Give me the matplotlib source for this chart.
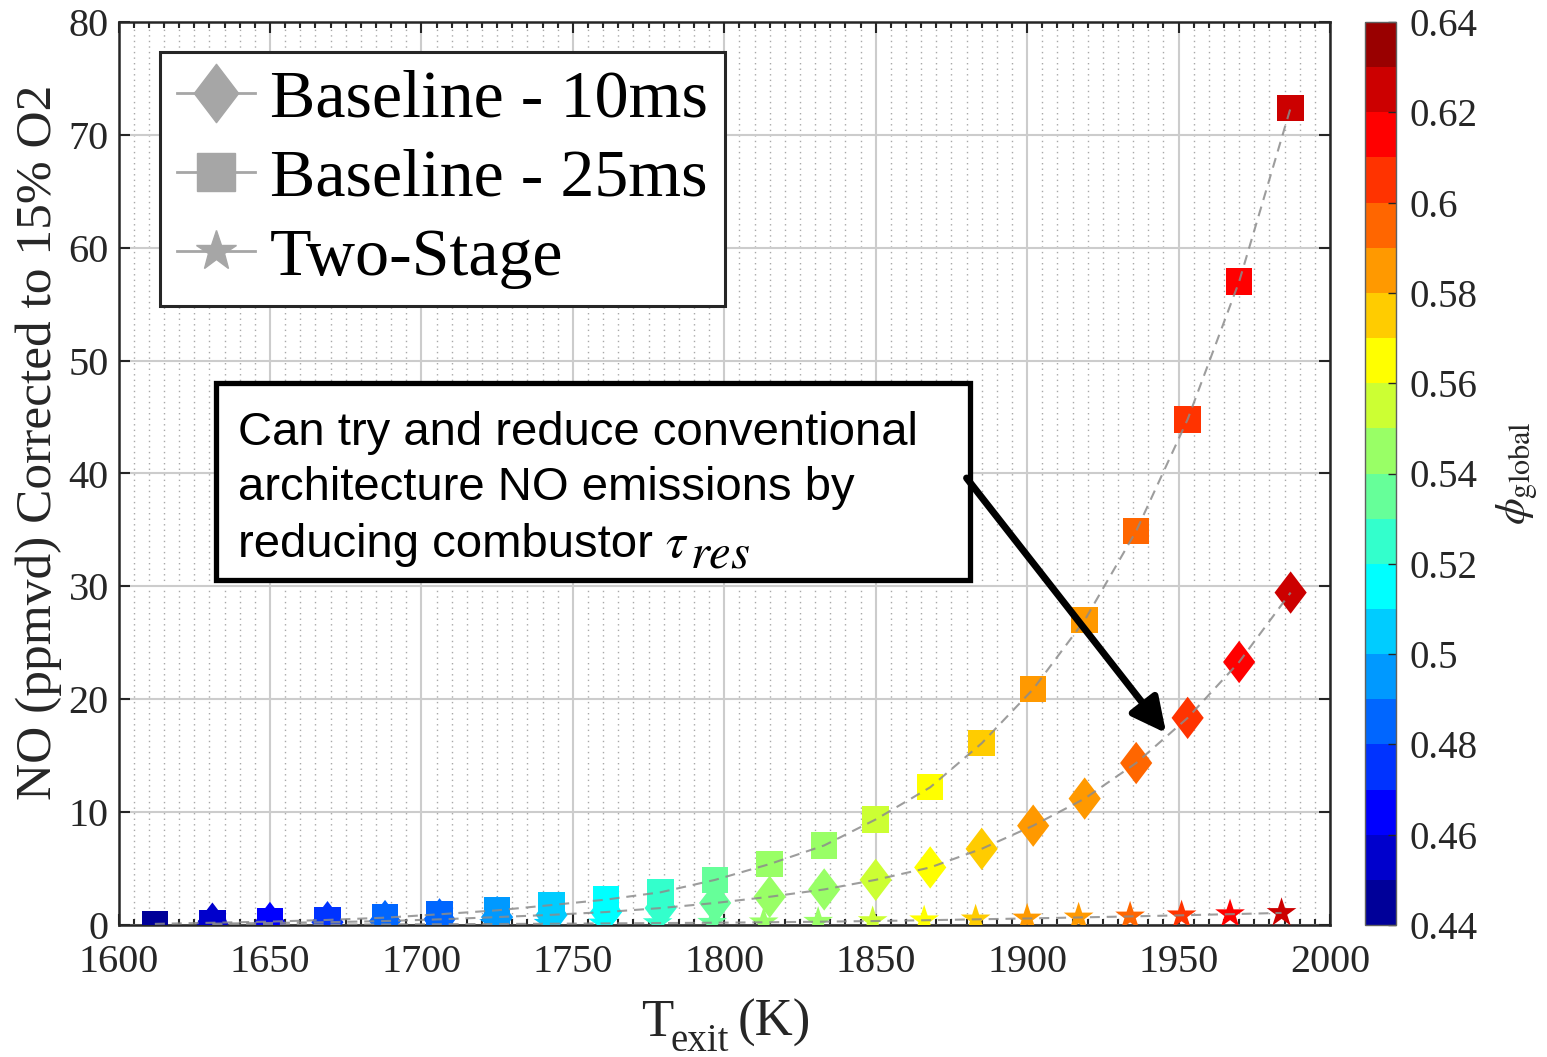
import numpy as np
import matplotlib
matplotlib.use('Agg')
import matplotlib.pyplot as plt
from matplotlib.path import Path
from matplotlib.lines import Line2D
from matplotlib.patches import Rectangle
from matplotlib.colors import Normalize, ListedColormap
from matplotlib.ticker import MultipleLocator
import matplotlib.cm as cm

plt.rcParams['font.family'] = ['Liberation Serif', 'DejaVu Serif']
plt.rcParams['mathtext.fontset'] = 'stix'

# ---------------- data ----------------
# Baseline - 25 ms (squares)
T_25 = [1612, 1631, 1650, 1669, 1688, 1706, 1725, 1743, 1761, 1779, 1797,
        1815, 1833, 1850, 1868, 1885, 1902, 1919, 1936, 1953, 1970, 1987]
NO_25 = [0.1, 0.2, 0.3, 0.45, 0.65, 0.95, 1.3, 1.77, 2.25, 2.9, 4.0,
         5.4, 7.05, 9.35, 12.2, 16.1, 20.9, 27.0, 34.9, 44.8, 57.0, 72.4]
phi_25 = [0.444, 0.453, 0.462, 0.472, 0.481, 0.489, 0.498, 0.507, 0.516, 0.525, 0.533,
          0.541, 0.549, 0.557, 0.565, 0.573, 0.581, 0.589, 0.597, 0.606, 0.616, 0.627]

# Baseline - 10 ms (diamonds)
T_10 = [1631, 1650, 1669, 1688, 1706, 1725, 1743, 1761, 1779, 1797,
        1815, 1833, 1850, 1868, 1885, 1902, 1919, 1936, 1953, 1970, 1987]
NO_10 = [0.12, 0.18, 0.25, 0.35, 0.5, 0.7, 0.9, 1.15, 1.5, 1.95,
         2.5, 3.15, 4.0, 5.1, 6.75, 8.8, 11.2, 14.35, 18.35, 23.3, 29.45]
phi_10 = [0.453, 0.462, 0.472, 0.481, 0.489, 0.498, 0.507, 0.516, 0.525, 0.533,
          0.541, 0.549, 0.557, 0.565, 0.573, 0.581, 0.589, 0.597, 0.606, 0.616, 0.627]

# Two-Stage (stars)
T_2s = [1631, 1650, 1669, 1688, 1706, 1724, 1742, 1760, 1778, 1796,
        1813, 1831, 1849, 1866, 1883, 1900, 1917, 1934, 1951, 1967, 1984]
NO_2s = [0.02, 0.03, 0.04, 0.05, 0.07, 0.09, 0.11, 0.14, 0.17, 0.2,
         0.24, 0.29, 0.35, 0.42, 0.5, 0.58, 0.67, 0.76, 0.86, 0.96, 1.07]
phi_2s = [0.453, 0.462, 0.472, 0.481, 0.489, 0.498, 0.507, 0.516, 0.525, 0.533,
          0.541, 0.549, 0.557, 0.565, 0.573, 0.581, 0.589, 0.597, 0.606, 0.616, 0.627]

x_ticks = [1600, 1650, 1700, 1750, 1800, 1850, 1900, 1950, 2000]
y_ticks = [0, 10, 20, 30, 40, 50, 60, 70, 80]
cbar_ticks = [0.44, 0.46, 0.48, 0.50, 0.52, 0.54, 0.56, 0.58, 0.60, 0.62, 0.64]
cbar_labels = ['0.44', '0.46', '0.48', '0.5', '0.52', '0.54', '0.56', '0.58', '0.6', '0.62', '0.64']
legend_labels = ['Baseline - 10ms', 'Baseline - 25ms', 'Two-Stage']
note_lines = ['Can try and reduce conventional',
              'architecture NO emissions by',
              'reducing combustor']
ylabel_text = 'NO (ppmvd) Corrected to 15% O2'


# MATLAB-style jet(20) colormap
def matlab_jet(m):
    n = int(np.ceil(m / 4))
    u = np.concatenate([np.arange(1, n + 1) / n, np.ones(n - 1), np.arange(n, 0, -1) / n])
    g = int(np.ceil(n / 2)) - (1 if m % 4 == 1 else 0) + np.arange(1, len(u) + 1)
    r = g + n
    b = g - n
    J = np.zeros((m, 3))
    for ch, rows in enumerate([r, g, b]):
        for idx, val in zip(rows, u):
            if 1 <= idx <= m:
                J[idx - 1, ch] = val
    return ListedColormap(J)


# ---------------- figure ----------------
W, H = 1547, 1057
fig = plt.figure(figsize=(W / 100, H / 100), dpi=100)
ax = fig.add_axes([118.5 / W, 1 - 925 / H, (1330 - 118.5) / W, (925 - 22) / H])
cax = fig.add_axes([1365 / W, 1 - 925 / H, 31 / W, (925 - 22) / H])

cmap = matlab_jet(20)
norm = Normalize(vmin=0.44, vmax=0.64)

diamond = Path([(0, 1), (0.76, 0), (0, -1), (-0.76, 0), (0, 1)],
               [Path.MOVETO, Path.LINETO, Path.LINETO, Path.LINETO, Path.CLOSEPOLY])

line_kw = dict(ls='--', color='0.55', lw=1.5, dashes=(4.8, 3.3), alpha=0.85, zorder=5)

ax.scatter(T_10, NO_10, c=phi_10, cmap=cmap, norm=norm, marker=diamond,
           s=30.5 ** 2, linewidths=0, zorder=3)
ax.scatter(T_25, NO_25, c=phi_25, cmap=cmap, norm=norm, marker='s',
           s=19 ** 2, linewidths=0, zorder=3.1)
ax.scatter(T_2s, NO_2s, c=phi_2s, cmap=cmap, norm=norm, marker='*',
           s=22.5 ** 2, linewidths=0, zorder=3.2)
ax.plot(T_10, NO_10, **line_kw)
ax.plot(T_25, NO_25, **line_kw)
ax.plot(T_2s, NO_2s, **line_kw)

ax.set_xlim(1600, 2000)
ax.set_ylim(0, 80)
ax.set_xticks(x_ticks)
ax.set_yticks(y_ticks)
ax.xaxis.set_minor_locator(MultipleLocator(5))
ax.grid(which='major', color='#cccccc', lw=1.5, ls='-')
ax.xaxis.grid(which='minor', color='#a8a8a8', lw=1.0, ls=(0, (1, 3)))
ax.set_axisbelow(True)
ax.tick_params(which='both', direction='in', top=True, right=True,
               color='#262626', width=1.5)
ax.tick_params(which='major', length=8, labelsize=29, labelcolor='#262626', pad=7)
ax.tick_params(axis='x', which='major', pad=14)
ax.tick_params(which='minor', length=4)
for sp in ax.spines.values():
    sp.set_linewidth(1.8)
    sp.set_color('#262626')

# axis labels
ax.set_ylabel(ylabel_text, fontsize=37, color='#262626')
ax.yaxis.set_label_coords(-0.047, 0.535)
fig.text(657 / W, 1 - 1036 / H, 'T', fontsize=38, color='#262626',
         ha='center', va='baseline')
fig.text(671 / W, 1 - 1051 / H, 'exit', fontsize=28, color='#262626',
         ha='left', va='baseline')
fig.text(738 / W, 1 - 1036 / H, '(K)', fontsize=38, color='#262626',
         ha='left', va='baseline')

# legend
handles = [
    Line2D([0], [0], color='0.65', lw=2, marker=diamond, ms=42, mfc='0.65', mec='0.65'),
    Line2D([0], [0], color='0.65', lw=2, marker='s', ms=27, mfc='0.65', mec='0.65'),
    Line2D([0], [0], color='0.65', lw=2, marker='*', ms=30, mfc='0.65', mec='0.65'),
]
leg = ax.legend(handles, legend_labels, loc='upper left',
                bbox_to_anchor=(0.034, 0.967), borderaxespad=0,
                fontsize=49, handlelength=1.15, handletextpad=0.22,
                labelspacing=0.26, borderpad=0.25, fancybox=False,
                framealpha=1, edgecolor='#262626')
leg.get_frame().set_linewidth(2.2)
leg.set_zorder(10)

# annotation box with arrow
ax.add_patch(Rectangle((1632.1, 30.56), 1881.3 - 1632.1, 48.0 - 30.56,
                       facecolor='white', edgecolor='black', lw=3.8, zorder=7))
sans = ['Liberation Sans', 'DejaVu Sans']
note_texts = []
for line, yb in zip(note_lines, [42.55, 37.65, 32.6]):
    note_texts.append(ax.text(1639.4, yb, line, fontsize=34, family=sans,
                              va='baseline', ha='left', color='black', zorder=8))

fig.canvas.draw()
renderer = fig.canvas.get_renderer()
bb = note_texts[2].get_window_extent(renderer)
inv = ax.transData.inverted()
tau_x = inv.transform((bb.x1 + 12, 0))[0]
tau = ax.text(tau_x, 32.6, r'$\tau$', fontsize=36, va='baseline', ha='left',
              color='black', zorder=8)
bb2 = tau.get_window_extent(renderer)
res_x = inv.transform((bb2.x1 + 2, 0))[0]
ax.text(res_x, 31.7, r'$res$', fontsize=35, va='baseline', ha='left',
        color='black', zorder=8)

ax.annotate('', xy=(1945.9, 17.0), xytext=(1880.0, 39.6),
            arrowprops=dict(arrowstyle='-|>,head_length=0.4,head_width=0.2',
                            lw=5, color='black', mutation_scale=52,
                            shrinkA=0, shrinkB=0), zorder=8)

# colorbar
sm = cm.ScalarMappable(norm=norm, cmap=cmap)
cb = fig.colorbar(sm, cax=cax)
cb.set_ticks(cbar_ticks)
cb.set_ticklabels(cbar_labels)
cax.tick_params(direction='in', length=6, width=1, color='#262626',
                labelsize=28, labelcolor='#262626', pad=10)
cb.outline.set_linewidth(1.0)
cb.outline.set_edgecolor('#606060')
cb.set_label(r'$\phi_{\mathrm{global}}$', fontsize=31, color='#262626', labelpad=12)

fig.savefig('out.png', dpi=100)
